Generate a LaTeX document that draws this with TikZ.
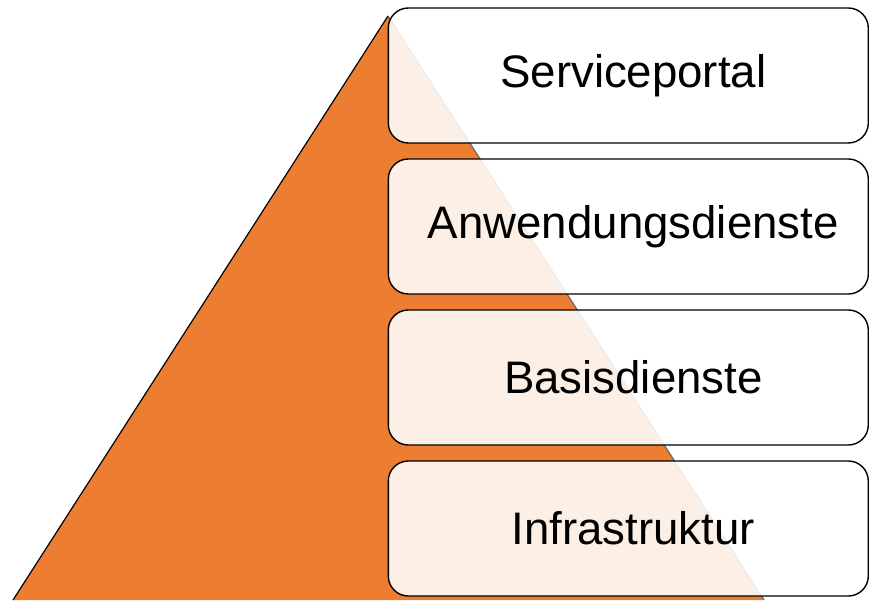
\documentclass[tikz,border=0pt]{standalone}
\usepackage{fontspec}
\setmainfont{Liberation Sans}
\definecolor{pyr}{HTML}{ED7D31}
\newcommand{\layertext}[1]{\hspace*{10pt}\raisebox{-2pt}{#1}}
\begin{document}
\begin{tikzpicture}[x=1pt,y=1pt,
  layerbox/.style={draw=black, line width=1.4pt, rounded corners=20pt, fill=white, fill opacity=0.88, text opacity=1,
    minimum width=480pt, minimum height=135pt, inner sep=0pt,
    font=\fontsize{45.6}{50}\selectfont}]
\useasboundingbox (0,0) rectangle (869,600);
\begin{scope}
\clip (0,0) rectangle (869,600);
\coordinate (apex) at (388,584);
\coordinate (bl) at (13,0);
\coordinate (br) at (764,0);
\fill[pyr] (apex) -- (bl) -- (br) -- cycle;
\draw[line width=1.2pt, black] (bl) -- (apex);
\draw[line width=1.2pt, black!60] (apex) -- (br);
\node[layerbox] (s1) at (628.3,524.5) {\layertext{Serviceportal}};
\node[layerbox] (s2) at (628.3,373.5) {\layertext{Anwendungsdienste}};
\node[layerbox] (s3) at (628.3,222.5) {\layertext{Basisdienste}};
\node[layerbox] (s4) at (628.3,71.5) {\layertext{Infrastruktur}};
\end{scope}
\end{tikzpicture}
\end{document}
